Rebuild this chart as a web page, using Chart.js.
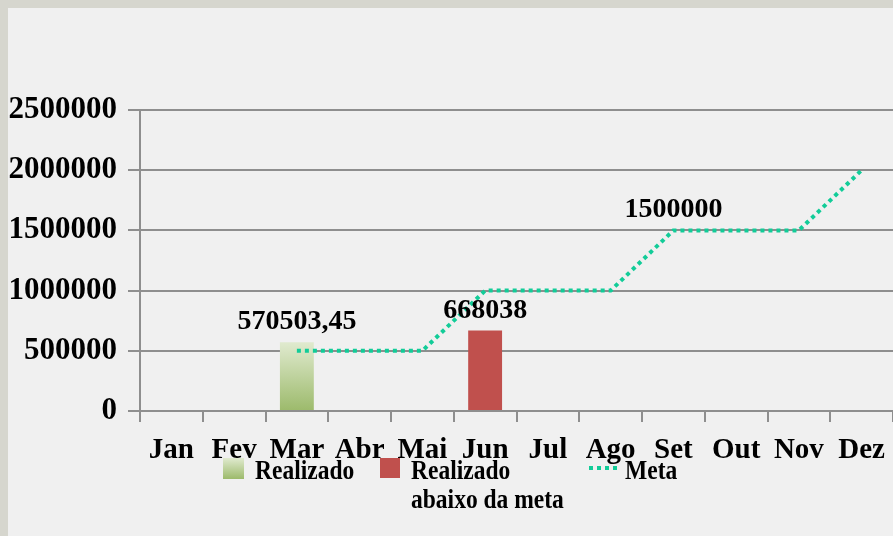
<!DOCTYPE html>
<html>
<head>
<meta charset="utf-8">
<script src="https://cdn.jsdelivr.net/npm/chart.js@4.4.1/dist/chart.umd.min.js"></script>
<style>
  html, body { margin: 0; padding: 0; background: #d6d6ce; }
  #panel {
    position: absolute; left: 8px; top: 8px; width: 885px; height: 528px;
    background: #f0f0f0;
  }
  #wrap { position: absolute; left: 0; top: 0; width: 893px; height: 536px; }
</style>
</head>
<body>
<div id="panel"></div>
<div id="wrap"><canvas id="graph" width="893" height="536"></canvas></div>
<script>
const months = ['Jan', 'Fev', 'Mar', 'Abr', 'Mai', 'Jun', 'Jul', 'Ago', 'Set', 'Out', 'Nov', 'Dez']
const realizado = [null, null, 570503.45, null, null, null, null, null, null, null, null, null]
const abaixoDaMeta = [null, null, null, null, null, 668038, null, null, null, null, null, null]
const meta = [null, null, 500000, 500000, 500000, 1000000, 1000000, 1000000, 1500000, 1500000, 1500000, 2000000]
const yTicks = [0, 500000, 1000000, 1500000, 2000000, 2500000]

// labels written above selected points: [dataset, index, text]
const valueLabels = [
  [0, 2, '570503,45'],
  [1, 5, '668038'],
  [2, 8, '1500000'],
]

const serif = "'Liberation Serif', 'Times New Roman', serif"
const gridGray = '#8e8e8e'
const green = '#9cba6b'
const greenLight = '#e0eacf'
const red = '#c0504d'
const metaColor = '#12cc98'

function greenFill(ctx) {
  const chart = ctx.chart
  if (!chart.chartArea || ctx.raw == null) return green
  const y = chart.scales.y
  const top = y.getPixelForValue(ctx.raw)
  const g = chart.ctx.createLinearGradient(0, top, 0, y.getPixelForValue(0))
  g.addColorStop(0, greenLight)
  g.addColorStop(1, green)
  return g
}

const labelsPlugin = {
  id: 'valueLabels',
  afterDatasetsDraw(chart) {
    const c = chart.ctx
    c.save()
    c.font = 'bold 28px ' + serif
    c.fillStyle = '#000'
    c.textAlign = 'center'
    c.textBaseline = 'alphabetic'
    valueLabels.forEach(([ds, i, text]) => {
      const el = chart.getDatasetMeta(ds).data[i]
      c.fillText(text, el.x, el.y - 13)
    })
    c.restore()
  },
}

const legendPlugin = {
  id: 'customLegend',
  afterDraw(chart) {
    const c = chart.ctx
    c.save()
    // swatches
    const g = c.createLinearGradient(0, 458, 0, 479)
    g.addColorStop(0, greenLight)
    g.addColorStop(1, green)
    c.fillStyle = g
    c.fillRect(223, 458, 21, 21)
    c.fillStyle = red
    c.fillRect(380, 458, 20, 20)
    c.strokeStyle = metaColor
    c.lineWidth = 4
    c.setLineDash([4, 4])
    c.beginPath()
    c.moveTo(589, 468)
    c.lineTo(621, 468)
    c.stroke()
    c.setLineDash([])

    // condensed legend text
    c.fillStyle = '#000'
    c.font = 'bold 28px ' + serif
    c.textBaseline = 'alphabetic'
    const sx = 0.84
    const txt = (s, x, y) => {
      c.save()
      c.translate(x, y)
      c.scale(sx, 1)
      c.fillText(s, 0, 0)
      c.restore()
    }
    txt('Realizado', 255, 479)
    txt('Realizado', 411, 479)
    txt('abaixo da meta', 411, 508)
    txt('Meta', 625, 479)
    c.restore()
  },
}

new Chart(document.getElementById('graph'), {
  type: 'bar',
  data: {
    labels: months,
    datasets: [
      {
        label: 'Realizado',
        data: realizado,
        backgroundColor: greenFill,
        grouped: false,
        categoryPercentage: 1,
        barPercentage: 0.54,
        order: 1,
      },
      {
        label: 'Realizado abaixo da meta',
        data: abaixoDaMeta,
        backgroundColor: red,
        grouped: false,
        categoryPercentage: 1,
        barPercentage: 0.54,
        order: 1,
      },
      {
        type: 'line',
        label: 'Meta',
        data: meta,
        borderColor: metaColor,
        borderWidth: 4,
        borderDash: [4, 4],
        pointRadius: 0,
        tension: 0,
        order: 0,
      },
    ],
  },
  options: {
    responsive: false,
    animation: false,
    devicePixelRatio: 1,
    layout: { padding: { top: 110, right: 0, bottom: 0, left: 0 } },
    plugins: {
      legend: { display: false },
      tooltip: { enabled: false },
    },
    scales: {
      x: {
        afterFit: (s) => {
          s.height = 125
          s.paddingLeft = 0
          s.paddingRight = 0
        },
        grid: {
          offset: true,
          drawOnChartArea: false,
          tickLength: 11,
          tickColor: gridGray,
          lineWidth: 2,
        },
        border: { color: gridGray, width: 2 },
        ticks: {
          color: '#000',
          font: { family: serif, size: 29, weight: 'bold' },
          padding: 11,
          maxRotation: 0,
          autoSkip: false,
        },
      },
      y: {
        min: 0,
        max: 2500000,
        afterFit: (s) => { s.width = 140 },
        afterBuildTicks: (s) => { s.ticks = yTicks.map((v) => ({ value: v })) },
        grid: {
          color: gridGray,
          lineWidth: 2,
          tickLength: 12,
          tickColor: gridGray,
        },
        border: { color: gridGray, width: 2 },
        ticks: {
          color: '#000',
          font: { family: serif, size: 31, weight: 'bold' },
          padding: 11,
          callback: (v) => String(v),
        },
      },
    },
  },
  plugins: [labelsPlugin, legendPlugin],
})
</script>
</body>
</html>
